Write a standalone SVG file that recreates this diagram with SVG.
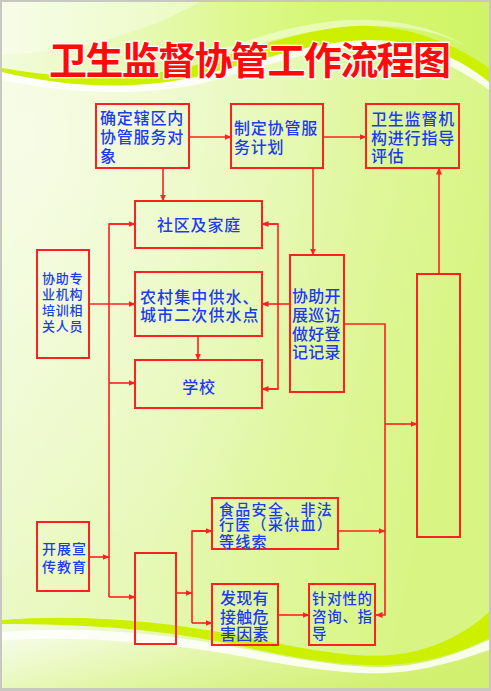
<svg xmlns="http://www.w3.org/2000/svg" width="491" height="691" viewBox="0 0 491 691">
<defs>
<linearGradient id="bg" x1="0" y1="0" x2="1" y2="0.3">
<stop offset="0" stop-color="#f0fad6"/>
<stop offset="0.5" stop-color="#e6f8b4"/>
<stop offset="1" stop-color="#d8f584"/>
</linearGradient>
<radialGradient id="glowTL" cx="0.05" cy="0.2" r="0.7">
<stop offset="0" stop-color="#ffffff" stop-opacity="0.95"/>
<stop offset="1" stop-color="#ffffff" stop-opacity="0"/>
</radialGradient>
<linearGradient id="topg" x1="0" y1="0" x2="1" y2="0">
<stop offset="0" stop-color="#f2fbdc"/>
<stop offset="0.3" stop-color="#e6f9b0"/>
<stop offset="0.65" stop-color="#d6f775"/>
<stop offset="1" stop-color="#d0f466"/>
</linearGradient>
<linearGradient id="bot" x1="0" y1="0" x2="1" y2="0.4">
<stop offset="0" stop-color="#f6fce8"/>
<stop offset="0.5" stop-color="#e2f6a6"/>
<stop offset="1" stop-color="#d2f070"/>
</linearGradient>
<marker id="ah" markerWidth="7" markerHeight="6" refX="6.5" refY="3" orient="auto" markerUnits="userSpaceOnUse">
<path d="M0,0 L7,3 L0,6 Z" fill="#ff2020"/>
</marker>
</defs>
<style>
.box{fill:none;stroke:#ff2020;stroke-width:2}
.ln{fill:none;stroke:#ff2020;stroke-width:1.6}
.ar{fill:none;stroke:#ff2020;stroke-width:1.6;marker-end:url(#ah)}
.tx{font-family:"Noto Sans CJK SC","Noto Sans",sans-serif;font-weight:500;fill:#1c3cf2;font-size:16px;letter-spacing:0.8px}
.title{font-family:"Noto Sans CJK SC","Noto Sans",sans-serif;font-weight:700;fill:#ff0a0a;stroke:#ffffff;stroke-width:2.5;paint-order:stroke;font-size:38px}
</style>
<g id="background">
<rect x="0" y="0" width="491" height="691" fill="#c8c8c0"/>
<rect x="2" y="2" width="487" height="686" fill="url(#bg)"/>
<rect x="2" y="2" width="487" height="686" fill="url(#glowTL)" opacity="0.5"/>
<path d="M2,2 H489 V70 C460,48 420,28 370,26 C320,24 260,46 200,64 C130,82 60,78 2,68 Z" fill="url(#topg)"/>
<path d="M2,2 H200 C150,30 90,50 2,55 Z" fill="#ffffff" opacity="0.35"/>
<path d="M220,50 C270,32 320,18 370,20 C420,22 450,36 470,48 C440,32 410,26 370,26 C320,26 270,40 220,56 Z" fill="#ffffff" opacity="0.45"/>
<path d="M2,72 C60,84 130,88 200,70 C260,52 320,30 370,32 C420,34 460,55 489,80 L489,90 C460,68 420,48 370,46 C320,46 260,68 200,84 C130,98 60,92 2,80 Z" fill="#ffffff" opacity="0.8"/>
<path d="M2,68 C60,78 130,82 200,64 C260,46 320,24 370,26 C420,28 460,48 489,68 L489,82 C460,58 420,40 370,40 C320,40 260,60 200,76 C130,92 60,86 2,72 Z" fill="#ccf000"/>
<path d="M2,622 C80,612 160,620 240,636 C310,652 360,662 400,656 C440,650 470,630 489,612 L489,688 L2,688 Z" fill="url(#bot)"/>
<path d="M2,632 C80,626 160,632 240,648 C310,662 360,670 400,666 C440,662 470,648 489,640 L489,688 L2,688 Z" fill="#ffffff" opacity="0.85"/>
<path d="M2,640 C80,636 160,642 240,656 C310,670 360,676 400,672 C440,668 470,656 489,650 L489,688 L2,688 Z" fill="url(#bot)"/>
<path d="M2,620 C80,614 160,620 240,636 C310,650 360,660 400,654 C440,648 470,630 489,612 L489,638 C470,648 440,660 400,664 C360,668 310,662 240,646 C160,628 80,624 2,624 Z" fill="#ccf000"/>
</g>
<text class="title" x="49" y="74" textLength="402" lengthAdjust="spacing">卫生监督协管工作流程图</text>
<g id="connectors">
<line class="ar" x1="189" y1="137" x2="231" y2="137"/>
<line class="ar" x1="323" y1="137" x2="366" y2="137"/>
<line class="ar" x1="163" y1="168" x2="163" y2="201"/>
<line class="ar" x1="313" y1="168" x2="313" y2="255"/>
<line class="ar" x1="439" y1="274" x2="439" y2="168"/>
<polyline class="ar" points="344,324 385,324 385,615 376,615"/>
<line class="ar" x1="385" y1="424" x2="417" y2="424"/>
<line class="ar" x1="338" y1="531" x2="385" y2="531"/>
<line class="ar" x1="290" y1="304" x2="262" y2="304"/>
<polyline class="ln" points="262,224 278,224 278,389 262,389"/>
<line class="ar" x1="278" y1="224" x2="262" y2="224"/>
<line class="ar" x1="278" y1="389" x2="262" y2="389"/>
<line class="ar" x1="89" y1="304" x2="135" y2="304"/>
<polyline class="ln" points="135,224 109,224 109,597"/>
<line class="ar" x1="109" y1="224" x2="135" y2="224"/>
<line class="ar" x1="109" y1="383" x2="135" y2="383"/>
<line class="ar" x1="109" y1="597" x2="135" y2="597"/>
<line class="ar" x1="89" y1="557" x2="109" y2="557"/>
<line class="ar" x1="198" y1="336" x2="198" y2="360"/>
<line class="ar" x1="176" y1="593" x2="192" y2="593"/>
<polyline class="ln" points="212,531 192,531 192,623"/>
<line class="ar" x1="192" y1="531" x2="212" y2="531"/>
<line class="ar" x1="192" y1="623" x2="212" y2="623"/>
<line class="ar" x1="278" y1="615" x2="309" y2="615"/>
</g>
<g id="n-target">
<rect class="box" x="96" y="104" width="93" height="64"/>
<text class="tx"><tspan x="100" y="124">确定辖区内</tspan><tspan x="100" y="143">协管服务对</tspan><tspan x="100" y="162">象</tspan></text>
</g>
<g id="n-plan">
<rect class="box" x="231" y="104" width="92" height="64"/>
<text class="tx"><tspan x="234" y="134">制定协管服</tspan><tspan x="234" y="153">务计划</tspan></text>
</g>
<g id="n-evaluate">
<rect class="box" x="366" y="104" width="93" height="64"/>
<text class="tx"><tspan x="371" y="125">卫生监督机</tspan><tspan x="371" y="144">构进行指导</tspan><tspan x="371" y="162">评估</tspan></text>
</g>
<g id="n-community">
<rect class="box" x="135" y="201" width="127" height="47"/>
<text class="tx" x="199" y="231" text-anchor="middle">社区及家庭</text>
</g>
<g id="n-water">
<rect class="box" x="135" y="272" width="127" height="64"/>
<text class="tx" style="letter-spacing:1.1px"><tspan x="140" y="303">农村集中供水、</tspan><tspan x="140" y="321">城市二次供水点</tspan></text>
</g>
<g id="n-school">
<rect class="box" x="135" y="360" width="127" height="48"/>
<text class="tx" x="199" y="393" text-anchor="middle">学校</text>
</g>
<g id="n-train">
<rect class="box" x="37" y="250" width="52" height="108"/>
<text class="tx" style="font-size:13px;letter-spacing:0.7px"><tspan x="42" y="283">协助专</tspan><tspan x="42" y="299">业机构</tspan><tspan x="42" y="315">培训相</tspan><tspan x="42" y="331">关人员</tspan></text>
</g>
<g id="n-patrol">
<rect class="box" x="290" y="255" width="54" height="137"/>
<text class="tx" style="letter-spacing:0.3px"><tspan x="292" y="302">协助开</tspan><tspan x="292" y="321">展巡访</tspan><tspan x="292" y="340">做好登</tspan><tspan x="292" y="358">记记录</tspan></text>
</g>
<g id="n-tall">
<rect class="box" x="417" y="274" width="43" height="263"/>
</g>
<g id="n-education">
<rect class="box" x="37" y="522" width="52" height="69"/>
<text class="tx" style="font-size:14px;letter-spacing:1px"><tspan x="42" y="554">开展宣</tspan><tspan x="42" y="572">传教育</tspan></text>
</g>
<g id="n-empty">
<rect class="box" x="135" y="553" width="41" height="91"/>
</g>
<g id="n-food">
<rect class="box" x="212" y="498" width="126" height="51"/>
<text class="tx" style="font-size:15px;letter-spacing:1.3px"><tspan x="219" y="515">食品安全、非法</tspan><tspan x="219" y="530">行医（采供血）</tspan><tspan x="219" y="547">等线索</tspan></text>
</g>
<g id="n-hazard">
<rect class="box" x="212" y="584" width="66" height="61"/>
<text class="tx" style="letter-spacing:0.3px"><tspan x="220" y="604">发现有</tspan><tspan x="220" y="623">接触危</tspan><tspan x="220" y="640">害因素</tspan></text>
</g>
<g id="n-advice">
<rect class="box" x="309" y="584" width="66" height="61"/>
<text class="tx" style="font-size:14.5px;letter-spacing:0.7px"><tspan x="312" y="604">针对性的</tspan><tspan x="312" y="622">咨询、指</tspan><tspan x="312" y="639">导</tspan></text>
</g>
</svg>
